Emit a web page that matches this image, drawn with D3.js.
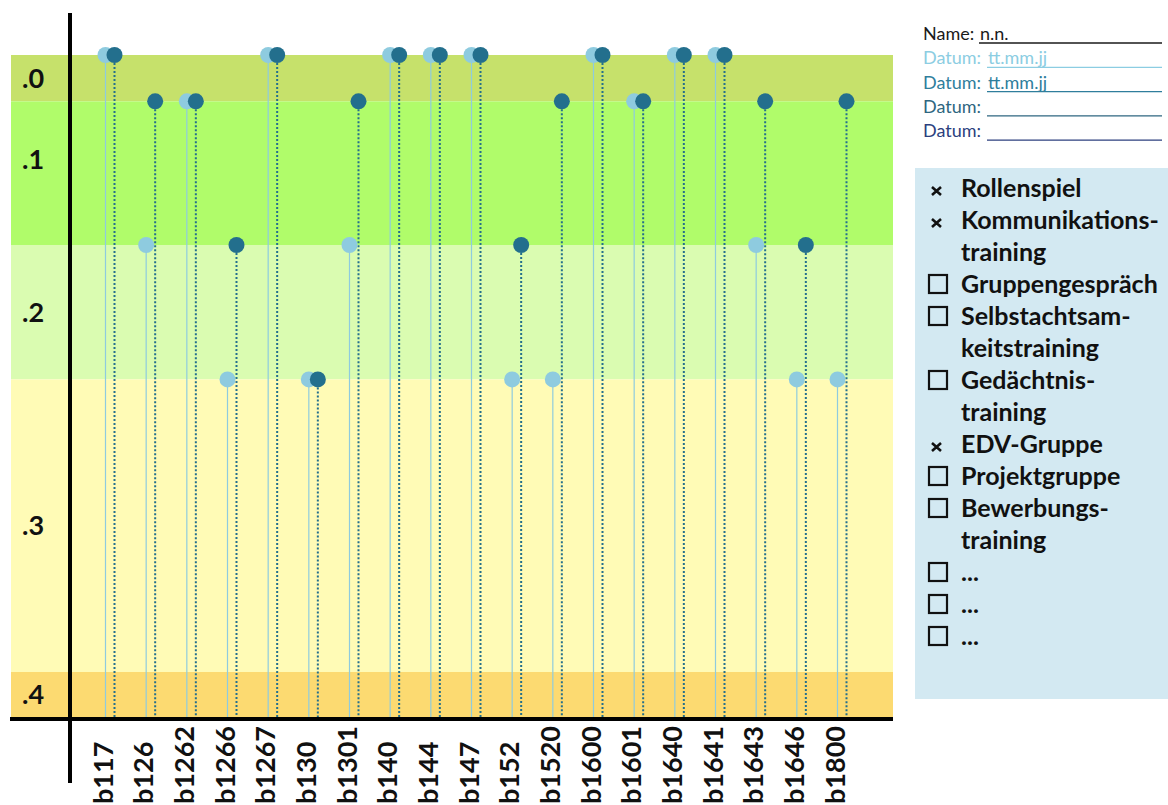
<!DOCTYPE html>
<html>
<head>
<meta charset="utf-8">
<script src="https://cdn.jsdelivr.net/npm/d3@7.9.0/dist/d3.min.js"></script>
<style>
body { margin: 0; background: #fff; }
svg { display: block; font-family: Lato, "Open Sans", sans-serif; }
</style>
</head>
<body>
<div id="chart"></div>
<script>
// codes on the x axis
const codes = ["b117", "b126", "b1262", "b1266", "b1267", "b130", "b1301", "b140", "b144", "b147",
               "b152", "b1520", "b1600", "b1601", "b1640", "b1641", "b1643", "b1646", "b1800"];
// qualifier per code, first and second date
const datum1 = [0, 2, 1, 3, 0, 3, 2, 0, 0, 0, 3, 3, 0, 1, 0, 0, 2, 3, 3];
const datum2 = [0, 1, 1, 2, 0, 3, 1, 0, 0, 0, 2, 1, 0, 1, 0, 0, 1, 2, 1];

// qualifier bands (percent of the scale)
const levelLabels = [".0", ".1", ".2", ".3", ".4"];
const levelStart = [0, 7, 28.7, 49, 93.2];
const levelEnd = [7, 28.7, 49, 93.2, 100];

// header block
const infoLabels = ["Name:", "Datum:", "Datum:", "Datum:", "Datum:"];
const infoValues = ["n.n.", "tt.mm.jj", "tt.mm.jj", "", ""];

// measures checklist
const measures = ["Rollenspiel", "Kommunikations-|training", "Gruppengespräch", "Selbstachtsam-|keitstraining",
                  "Gedächtnis-|training", "EDV-Gruppe", "Projektgruppe", "Bewerbungs-|training", "...", "...", "..."];
const measureChecked = [true, true, false, false, false, true, false, false, false, false, false];

const width = 1168, height = 805;
const lightBlue = "#8ecbdf", darkBlue = "#236f8d";

const svg = d3.select("#chart").append("svg")
    .attr("width", width)
    .attr("height", height);

const x = d3.scalePoint().domain(codes).range([110, 842]);
const y = d3.scaleLinear().domain([0, 100]).range([55, 717]);
const bandColor = d3.scaleOrdinal()
    .domain(levelLabels)
    .range(["#c6e16b", "#b0fc6a", "#dafcb1", "#fffbb6", "#fcda71"]);

// bands
svg.selectAll(".band")
    .data(levelLabels)
    .enter().append("rect")
    .attr("x", 11)
    .attr("width", 882)
    .attr("y", (d, i) => y(levelStart[i]))
    .attr("height", (d, i) => y(levelEnd[i]) - y(levelStart[i]))
    .attr("fill", d => bandColor(d));

svg.selectAll(".lvl")
    .data(levelLabels)
    .enter().append("text")
    .attr("x", 22)
    .attr("y", (d, i) => i === 1 ? y(levelStart[i]) + 58 : (y(levelStart[i]) + y(levelEnd[i])) / 2)
    .attr("dy", "0.35em")
    .attr("font-size", 27)
    .attr("font-weight", "bold")
    .attr("fill", "#111")
    .text(d => d);

// stems
svg.selectAll(".stem1")
    .data(codes)
    .enter().append("line")
    .attr("x1", d => x(d) - 4.5)
    .attr("x2", d => x(d) - 4.5)
    .attr("y1", (d, i) => y(levelStart[datum1[i]]))
    .attr("y2", y(100))
    .attr("stroke", lightBlue)
    .attr("stroke-width", 1.2);

svg.selectAll(".stem2")
    .data(codes)
    .enter().append("line")
    .attr("x1", d => x(d) + 4.5)
    .attr("x2", d => x(d) + 4.5)
    .attr("y1", (d, i) => y(levelStart[datum2[i]]))
    .attr("y2", y(100))
    .attr("stroke", darkBlue)
    .attr("stroke-width", 2)
    .attr("stroke-dasharray", "2,2");

// dots
svg.selectAll(".dot1")
    .data(codes)
    .enter().append("circle")
    .attr("cx", d => x(d) - 4.5)
    .attr("cy", (d, i) => y(levelStart[datum1[i]]))
    .attr("r", 8)
    .attr("fill", lightBlue);

svg.selectAll(".dot2")
    .data(codes)
    .enter().append("circle")
    .attr("cx", d => x(d) + 4.5)
    .attr("cy", (d, i) => y(levelStart[datum2[i]]))
    .attr("r", 8)
    .attr("fill", darkBlue);

// axes lines
svg.append("line")
    .attr("x1", 70).attr("x2", 70)
    .attr("y1", 13).attr("y2", 783)
    .attr("stroke", "#000").attr("stroke-width", 4);

svg.append("line")
    .attr("x1", 10).attr("x2", 893)
    .attr("y1", 719).attr("y2", 719)
    .attr("stroke", "#000").attr("stroke-width", 4);

// code labels
svg.selectAll(".code")
    .data(codes)
    .enter().append("text")
    .attr("transform", d => "translate(" + (x(d) - 7) + ",804) rotate(-90)")
    .attr("dy", "0.36em")
    .attr("font-size", 27)
    .attr("font-weight", "bold")
    .attr("fill", "#111")
    .text(d => d);

// header block
const infoColors = ["#1a1a1a", "#8ccde2", "#2f7e9c", "#2e6680", "#2c3f7e"];
const info = svg.append("g");
infoLabels.forEach((lab, i) => {
    const base = 40 + i * 24.3;
    const vx = i === 0 ? 980 : 988;
    info.append("text")
        .attr("x", 923).attr("y", base)
        .attr("font-size", 18)
        .attr("fill", infoColors[i])
        .text(lab);
    info.append("text")
        .attr("x", vx).attr("y", base)
        .attr("font-size", 18)
        .attr("fill", infoColors[i])
        .text(infoValues[i]);
    info.append("line")
        .attr("x1", vx - 1).attr("x2", 1162)
        .attr("y1", base + 3).attr("y2", base + 3)
        .attr("stroke", infoColors[i])
        .attr("stroke-width", 1.3);
});

// checklist panel
svg.append("rect")
    .attr("x", 915).attr("y", 168)
    .attr("width", 260).attr("height", 531)
    .attr("fill", "#d3e9f2");

const list = svg.append("g");
let line = 0;
measures.forEach((m, i) => {
    const base = 197 + line * 32;
    if (measureChecked[i]) {
        list.append("path")
            .attr("d", "M932," + (base - 10) + "L941," + (base - 2) + "M941," + (base - 10) + "L932," + (base - 2))
            .attr("stroke", "#111")
            .attr("stroke-width", 2.6);
    } else {
        list.append("rect")
            .attr("x", 929).attr("y", base - 18)
            .attr("width", 18).attr("height", 18)
            .attr("fill", "none")
            .attr("stroke", "#111")
            .attr("stroke-width", 2.2);
    }
    m.split("|").forEach(part => {
        list.append("text")
            .attr("x", 961).attr("y", 197 + line * 32)
            .attr("font-size", 25)
            .attr("font-weight", "bold")
            .attr("fill", "#111")
            .text(part);
        line++;
    });
});
</script>
</body>
</html>
